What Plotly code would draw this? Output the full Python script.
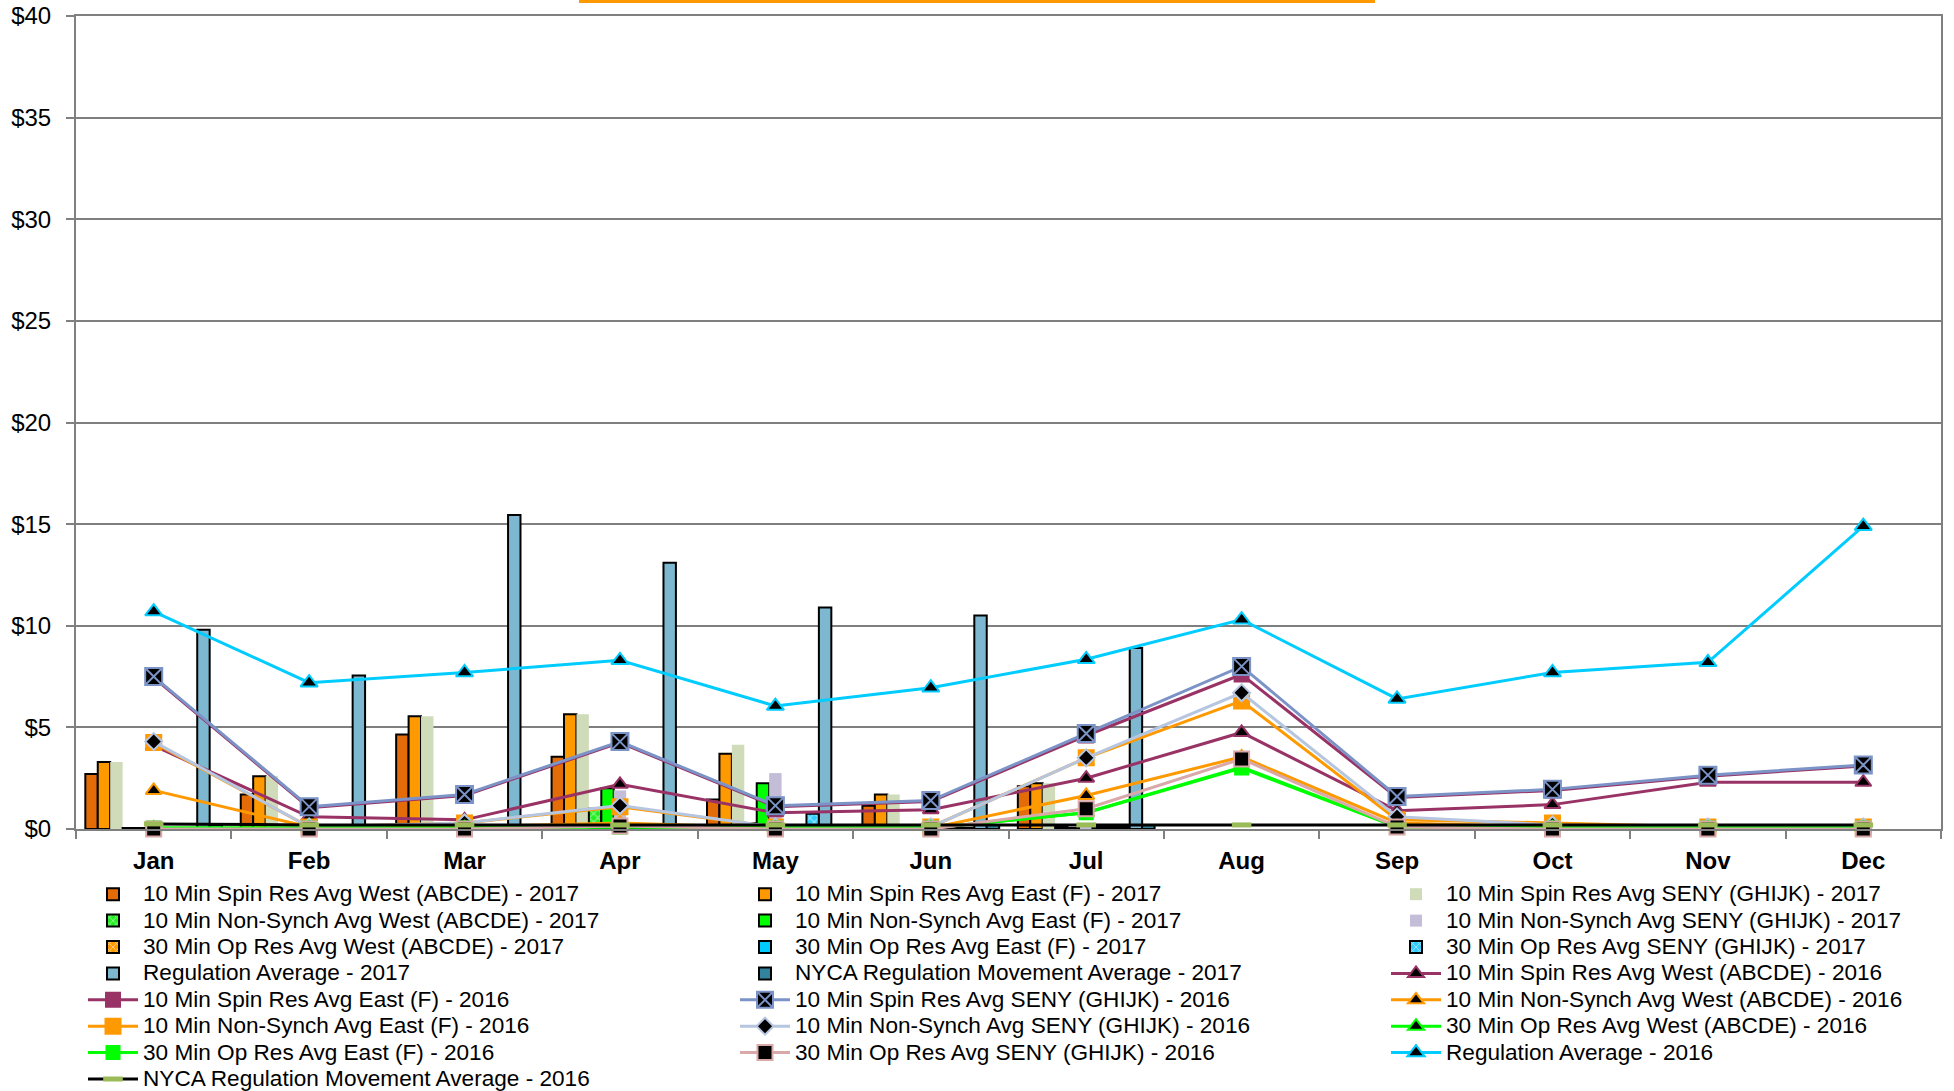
import plotly.graph_objects as go

months = ["Jan", "Feb", "Mar", "Apr", "May", "Jun", "Jul", "Aug", "Sep", "Oct", "Nov", "Dec"]
N = None

# ---- 2017 bars (Jan-Jul) ----
spin_west_17 = [2.7, 1.7, 4.65, 3.55, 1.45, 1.15, 2.1, N, N, N, N, N]
spin_east_17 = [3.3, 2.6, 5.55, 5.65, 3.7, 1.7, 2.25, N, N, N, N, N]
spin_seny_17 = [3.3, 2.6, 5.55, 5.65, 4.15, 1.7, 2.25, N, N, N, N, N]
nsync_west_17 = [0.05, 0.05, 0.05, 1.0, 0.3, 0.1, 0.1, N, N, N, N, N]
nsync_east_17 = [0.05, 0.05, 0.05, 2.0, 2.25, 0.1, 0.05, N, N, N, N, N]
nsync_seny_17 = [0.05, 0.05, 0.05, 1.9, 2.75, 0.1, 0.05, N, N, N, N, N]
op30_west_17 = [0.0, 0.05, 0.05, 0.1, 0.2, 0.05, 0.1, N, N, N, N, N]
op30_east_17 = [0.0, 0.05, 0.05, 0.1, 0.15, 0.05, 0.1, N, N, N, N, N]
op30_seny_17 = [0.0, 0.05, 0.05, 0.1, 0.75, 0.05, 0.1, N, N, N, N, N]
regulation_17 = [9.8, 7.55, 15.45, 13.1, 10.9, 10.5, 8.9, N, N, N, N, N]
nyca_17 = [0.2, 0.2, 0.15, 0.15, 0.2, 0.2, 0.2, N, N, N, N, N]

# ---- 2016 lines ----
spin_west_16 = [4.1, 0.6, 0.45, 2.2, 0.8, 0.95, 2.5, 4.75, 0.9, 1.2, 2.3, 2.3]
spin_east_16 = [7.45, 1.05, 1.65, 4.25, 1.1, 1.35, 4.6, 7.6, 1.55, 1.9, 2.6, 3.1]
spin_seny_16 = [7.5, 1.1, 1.7, 4.3, 1.15, 1.4, 4.7, 8.0, 1.6, 1.95, 2.65, 3.15]
nsync_west_16 = [1.9, 0.1, 0.1, 0.3, 0.05, 0.05, 1.65, 3.55, 0.3, 0.1, 0.05, 0.05]
nsync_east_16 = [4.25, 0.1, 0.3, 1.1, 0.1, 0.1, 3.5, 6.3, 0.45, 0.3, 0.1, 0.1]
nsync_seny_16 = [4.3, 0.1, 0.3, 1.15, 0.1, 0.1, 3.5, 6.7, 0.6, 0.2, 0.1, 0.1]
op30_west_16 = [0.05, 0.05, 0.05, 0.1, 0.05, 0.05, 0.8, 3.05, 0.1, 0.05, 0.05, 0.05]
op30_east_16 = [0.05, 0.05, 0.05, 0.1, 0.05, 0.05, 0.8, 3.0, 0.1, 0.05, 0.05, 0.05]
op30_seny_16 = [0.0, 0.0, 0.0, 0.15, 0.0, 0.0, 1.0, 3.45, 0.1, 0.0, 0.0, 0.0]
regulation_16 = [10.7, 7.2, 7.7, 8.3, 6.05, 6.95, 8.35, 10.3, 6.4, 7.7, 8.2, 14.9]
nyca_16 = [0.25, 0.2, 0.2, 0.2, 0.2, 0.2, 0.2, 0.2, 0.2, 0.2, 0.2, 0.2]

y_ticks = [0, 5, 10, 15, 20, 25, 30, 35, 40]
y_tick_labels = ["$0", "$5", "$10", "$15", "$20", "$25", "$30", "$35", "$40"]

FONT = "Liberation Sans, Arial, sans-serif"
legend_keys = ["legend", "legend2", "legend3"]


def legend_label(text):
    return '<span style="font-size:22.6px">' + text + "</span>"


fig = go.Figure()

# (name, values, color, outline, pattern)
bar_specs = [
    ("10 Min Spin Res Avg West (ABCDE) - 2017", spin_west_17, "#E36C09", True, False),
    ("10 Min Spin Res Avg East (F) - 2017", spin_east_17, "#FF9900", True, False),
    ("10 Min Spin Res Avg SENY (GHIJK) - 2017", spin_seny_17, "#D0DCB9", False, False),
    ("10 Min Non-Synch Avg West (ABCDE) - 2017", nsync_west_17, "#22EE22", True, True),
    ("10 Min Non-Synch Avg East (F) - 2017", nsync_east_17, "#00FF00", True, False),
    ("10 Min Non-Synch Avg SENY (GHIJK) - 2017", nsync_seny_17, "#C4BDD7", False, False),
    ("30 Min Op Res Avg West (ABCDE) - 2017", op30_west_17, "#FF9900", True, True),
    ("30 Min Op Res Avg East (F) - 2017", op30_east_17, "#00CCFF", True, False),
    ("30 Min Op Res Avg SENY (GHIJK) - 2017", op30_seny_17, "#33CCFF", True, True),
    ("Regulation Average - 2017", regulation_17, "#7EB8D0", True, False),
    ("NYCA Regulation Movement Average - 2017", nyca_17, "#31849B", True, False),
]

idx = 0
for name, vals, color, outline, patt in bar_specs:
    marker = dict(color=color,
                  line=dict(color="black", width=2 if outline else 0))
    if patt:
        marker["pattern"] = dict(shape="x", fgcolor="white", bgcolor=color,
                                 size=6, solidity=0.35)
    fig.add_trace(go.Bar(name=legend_label(name), x=months, y=vals, marker=marker,
                         legend=legend_keys[idx % 3]))
    idx += 1

# (name, values, line color, marker symbol, marker fill, marker outline, size)
line_specs = [
    ("10 Min Spin Res Avg West (ABCDE) - 2016", spin_west_16, "#993366", "triangle-up", "black", "#993366", 14),
    ("10 Min Spin Res Avg East (F) - 2016", spin_east_16, "#993366", "square", "#993366", "#993366", 14),
    ("10 Min Spin Res Avg SENY (GHIJK) - 2016", spin_seny_16, "#7B93C6", "square-x", "black", "#7B93C6", 17),
    ("10 Min Non-Synch Avg West (ABCDE) - 2016", nsync_west_16, "#FF9900", "triangle-up", "black", "#FF9900", 14),
    ("10 Min Non-Synch Avg East (F) - 2016", nsync_east_16, "#FF9900", "square", "#FF9900", "#FF9900", 15),
    ("10 Min Non-Synch Avg SENY (GHIJK) - 2016", nsync_seny_16, "#B6C5E0", "diamond", "black", "#B6C5E0", 13),
    ("30 Min Op Res Avg West (ABCDE) - 2016", op30_west_16, "#00FF00", "triangle-up", "black", "#00FF00", 14),
    ("30 Min Op Res Avg East (F) - 2016", op30_east_16, "#00FF00", "square", "#00FF00", "#00FF00", 13),
    ("30 Min Op Res Avg SENY (GHIJK) - 2016", op30_seny_16, "#D9A8A8", "square", "black", "#D9A8A8", 15),
    ("Regulation Average - 2016", regulation_16, "#00CCFF", "triangle-up", "black", "#00CCFF", 15),
    ("NYCA Regulation Movement Average - 2016", nyca_16, "black", "line-ew", "#9BBB59", "#9BBB59", 14),
]

for name, vals, lc, sym, fill, mline, size in line_specs:
    mlw = 5 if sym == "line-ew" else 2
    fig.add_trace(go.Scatter(
        name=legend_label(name), x=months, y=vals, mode="lines+markers",
        line=dict(color=lc, width=3),
        marker=dict(symbol=sym, color=fill, size=size,
                    line=dict(color=mline, width=mlw)),
        cliponaxis=False,
        legend=legend_keys[idx % 3]))
    idx += 1

plot_l, plot_r, plot_t, plot_b = 76, 13, 16, 262
W, H = 1954, 1091
pw = W - plot_l - plot_r
ph = H - plot_t - plot_b
legend_top_px = 876


def legend_cfg(px_left):
    return dict(x=(px_left - plot_l) / pw,
                y=-(legend_top_px - (H - plot_b)) / ph,
                xanchor="left", yanchor="top", orientation="v",
                font=dict(family=FONT, size=18, color="black"),
                itemwidth=50, bgcolor="rgba(0,0,0,0)", borderwidth=0,
                tracegroupgap=0)


fig.update_layout(
    width=W, height=H,
    margin=dict(l=plot_l, r=plot_r, t=plot_t, b=plot_b, autoexpand=False),
    paper_bgcolor="white", plot_bgcolor="white",
    font=dict(family=FONT, color="black"),
    barmode="group", bargap=0.12, bargroupgap=0,
    legend=legend_cfg(83),
    legend2=legend_cfg(735),
    legend3=legend_cfg(1386),
    xaxis=dict(type="category", categoryorder="array", categoryarray=months,
               range=[-0.5, 11.5], tickson="boundaries", ticks="outside",
               ticklen=8, tickwidth=2, tickcolor="#808080",
               showline=True, linecolor="#808080", linewidth=2, mirror=True,
               showgrid=False, ticklabelstandoff=9,
               tickfont=dict(family=FONT, size=24, color="black", weight="bold")),
    yaxis=dict(range=[0, 40], tickvals=y_ticks, ticktext=y_tick_labels,
               ticks="outside", ticklen=8, tickwidth=2, tickcolor="#808080",
               showline=True, linecolor="#808080", linewidth=2, mirror=True,
               showgrid=True, gridcolor="#7F7F7F", gridwidth=1.5,
               zeroline=False, ticklabelstandoff=10,
               tickfont=dict(family=FONT, size=24, color="black")),
    shapes=[dict(type="rect", xref="paper", yref="paper",
                 x0=(579 - plot_l) / pw, x1=(1375 - plot_l) / pw,
                 y0=1 + (plot_t - 3) / ph, y1=1 + plot_t / ph,
                 fillcolor="#FF9900", line=dict(width=0), layer="above")],
)

fig.write_html("out.html",
               config={"displayModeBar": False},
               post_script="document.body.style.margin='0';document.body.style.overflow='hidden';")
